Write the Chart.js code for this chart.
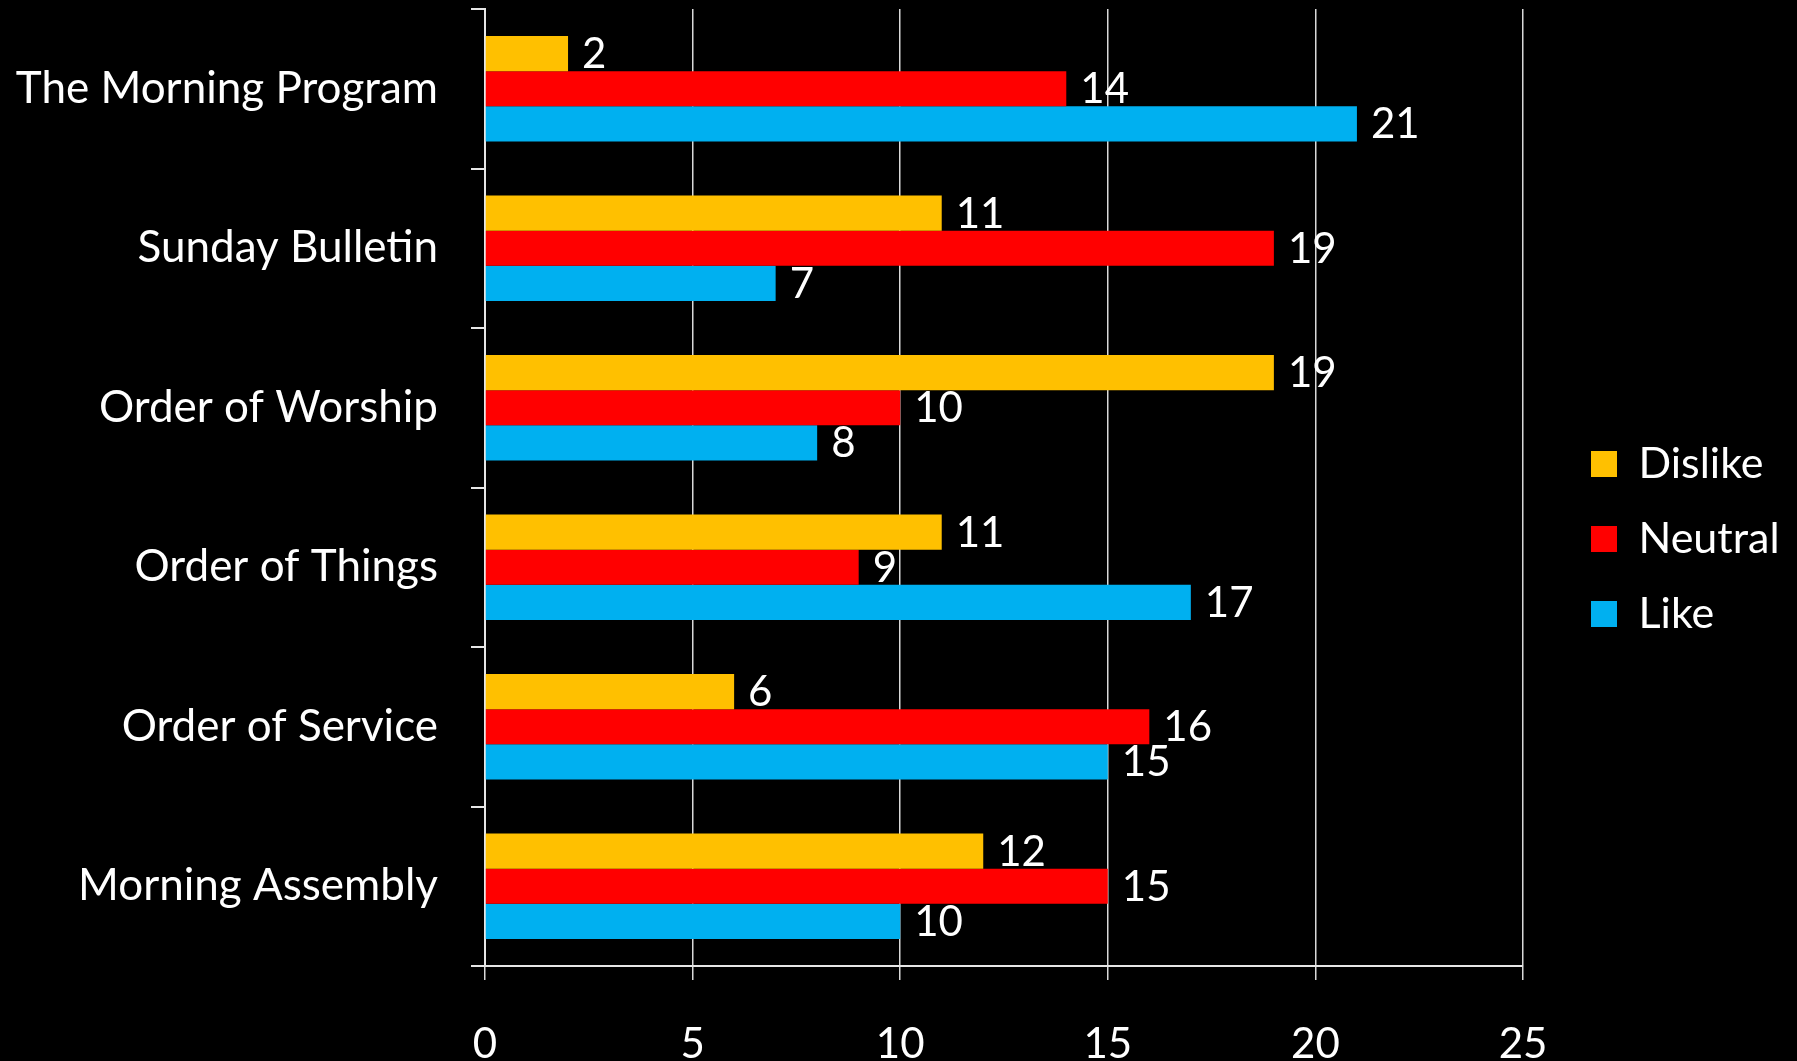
<!DOCTYPE html>
<html>
<head>
<meta charset="utf-8">
<title>Morning Program Survey</title>
<script src="https://cdn.jsdelivr.net/npm/chart.js@4.4.1/dist/chart.umd.min.js"></script>
<style>
  html, body { margin: 0; padding: 0; background: #000; }
  canvas { display: block; }
</style>
</head>
<body>
<canvas id="chart" width="1797" height="1061"></canvas>
<script>
// survey answers per program name
const categories = ['The Morning Program', 'Sunday Bulletin', 'Order of Worship', 'Order of Things', 'Order of Service', 'Morning Assembly'];
const dislike = [2, 11, 19, 11, 6, 12];
const neutral = [14, 19, 10, 9, 16, 15];
const like = [21, 7, 8, 17, 15, 10];
const xTicks = [0, 5, 10, 15, 20, 25];

Chart.defaults.font.family = 'Lato';
Chart.defaults.color = '#ffffff';

// numbers at the end of each bar
const barValues = {
  id: 'barValues',
  afterDatasetsDraw(chart) {
    const ctx = chart.ctx;
    ctx.save();
    ctx.font = '42px Lato';
    ctx.fillStyle = '#ffffff';
    ctx.textAlign = 'left';
    ctx.textBaseline = 'middle';
    chart.data.datasets.forEach((ds, i) => {
      chart.getDatasetMeta(i).data.forEach((bar, j) => {
        ctx.fillText(String(ds.data[j]), bar.x + 14, bar.y + 1);
      });
    });
    ctx.restore();
  }
};

// push the legend a little closer to the right edge
const legendShift = {
  id: 'legendShift',
  afterLayout(chart) {
    chart.legend.left += 36;
    chart.legend.right += 36;
    chart.legend.top += 4;
    chart.legend.bottom += 4;
  }
};

const chart = new Chart(document.getElementById('chart'), {
  type: 'bar',
  data: {
    labels: categories,
    datasets: [
      { label: 'Dislike', data: dislike, backgroundColor: '#FFC000' },
      { label: 'Neutral', data: neutral, backgroundColor: '#FF0000' },
      { label: 'Like', data: like, backgroundColor: '#00B0F0' }
    ]
  },
  options: {
    indexAxis: 'y',
    responsive: false,
    animation: false,
    devicePixelRatio: 1,
    datasets: {
      bar: { categoryPercentage: 0.66, barPercentage: 1.0 }
    },
    layout: { padding: { top: 9 } },
    plugins: {
      tooltip: { enabled: false },
      legend: {
        position: 'right',
        labels: {
          boxWidth: 26,
          boxHeight: 26,
          padding: 32,
          color: '#ffffff',
          font: { size: 43 }
        }
      }
    },
    scales: {
      x: {
        min: 0,
        max: 25,
        afterBuildTicks: (scale) => { scale.ticks = xTicks.map(v => ({ value: v })); },
        afterFit: (scale) => { scale.height = 95; scale.paddingRight = 1797 - 1523; },
        grid: { color: '#d9d9d9', lineWidth: 1.5, tickLength: 14, drawTicks: true },
        border: { color: '#e6e6e6', width: 2 },
        ticks: { color: '#ffffff', font: { size: 42 }, padding: 39 }
      },
      y: {
        afterFit: (scale) => { scale.width = 485; scale.paddingTop = 0; scale.paddingBottom = 0; },
        grid: { drawOnChartArea: false, color: '#e6e6e6', lineWidth: 2, tickLength: 14, offset: true },
        border: { color: '#e6e6e6', width: 2 },
        ticks: { color: '#ffffff', font: { size: 44 }, padding: 33 }
      }
    }
  },
  plugins: [barValues, legendShift]
});
</script>
</body>
</html>
